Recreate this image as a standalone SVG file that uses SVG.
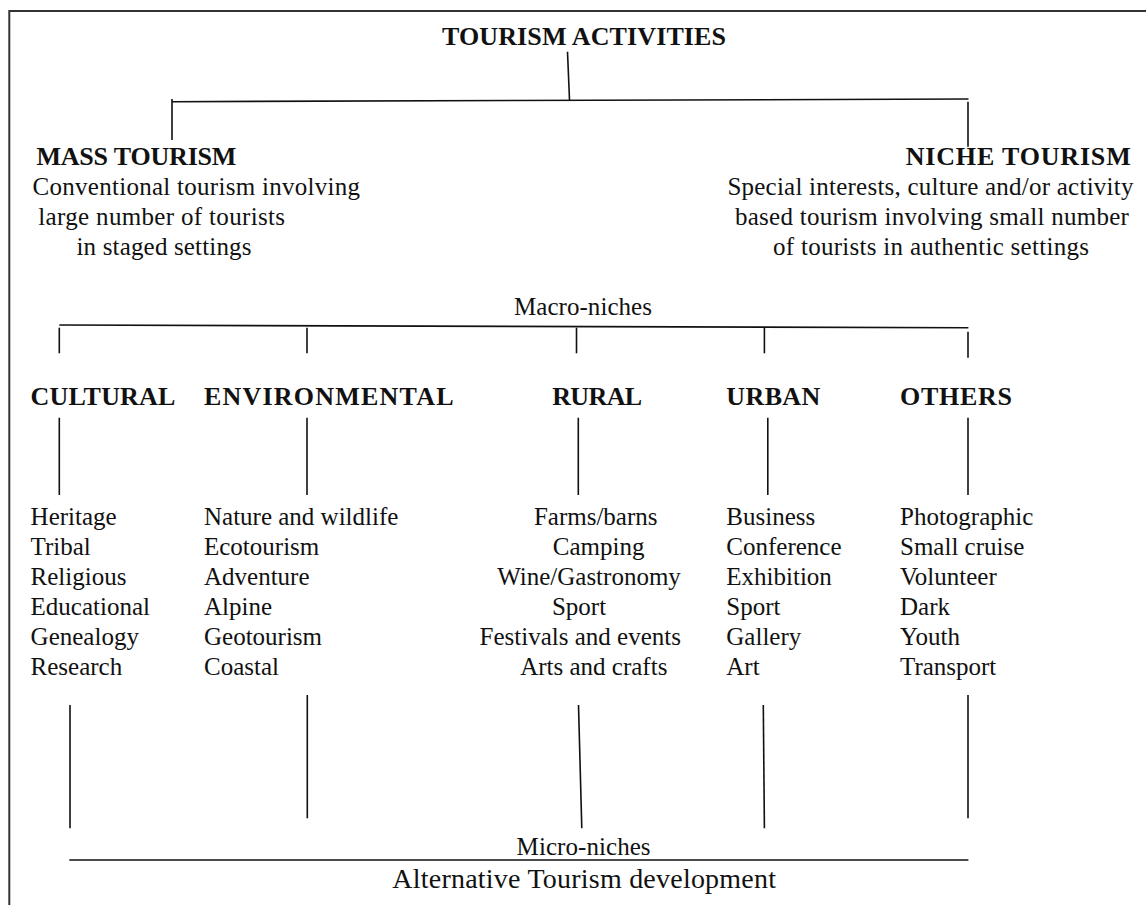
<svg xmlns="http://www.w3.org/2000/svg" width="1146" height="905" viewBox="0 0 1146 905">
<style>
text{font-family:"Liberation Serif","Times New Roman",serif;fill:#111;}
.h{font-weight:bold;font-size:26px;}
.b{font-size:25px;}
.m{text-anchor:middle;}
.c line,.c path{stroke:#111;stroke-width:1.6;fill:none;}
</style>
<rect width="1146" height="905" fill="#fff"/>
<path d="M9.3,905 V11 H1146" fill="none" stroke="#333" stroke-width="2"/>

<g class="c" id="connectors">
<line x1="567.5" y1="51.7" x2="569.5" y2="100"/>
<line x1="172" y1="101.7" x2="968.5" y2="99"/>
<line x1="172" y1="99" x2="172" y2="140"/>
<line x1="968" y1="101.7" x2="968" y2="146.7"/>
<line x1="59.3" y1="325" x2="968.4" y2="327.7"/>
<line x1="59.3" y1="327.7" x2="59.3" y2="353.3"/>
<line x1="307" y1="327.7" x2="307" y2="353.3"/>
<line x1="576.5" y1="327.7" x2="576.5" y2="353.3"/>
<line x1="764.4" y1="328" x2="764.4" y2="353.3"/>
<line x1="968" y1="331.7" x2="968" y2="357.7"/>
<line x1="59.3" y1="417.7" x2="59.3" y2="495"/>
<line x1="307" y1="417.7" x2="307" y2="495"/>
<line x1="578.3" y1="417.7" x2="578.3" y2="495"/>
<line x1="767.8" y1="417.7" x2="767.8" y2="495"/>
<line x1="968" y1="417.7" x2="968" y2="495"/>
<line x1="70" y1="705" x2="70" y2="828.3"/>
<line x1="307.3" y1="695" x2="307.3" y2="818.3"/>
<line x1="578.5" y1="705" x2="581.8" y2="828.3"/>
<line x1="763.3" y1="705" x2="764.4" y2="828.3"/>
<line x1="968" y1="695" x2="968" y2="818.3"/>
<line x1="69.3" y1="860" x2="968.4" y2="860"/>
</g>

<g id="root"><text class="h" x="442" y="45" textLength="284">TOURISM ACTIVITIES</text></g>

<g id="mass">
<text class="h" x="36.4" y="165" textLength="200">MASS TOURISM</text>
<text class="b" x="32.5" y="195" textLength="327.5">Conventional tourism involving</text>
<text class="b" x="38.3" y="225" textLength="246.7">large number of tourists</text>
<text class="b" x="76.5" y="255" textLength="175">in staged settings</text>
</g>

<g id="niche">
<text class="h" x="905.7" y="165" textLength="225">NICHE TOURISM</text>
<text class="b" x="727.4" y="195" textLength="406">Special interests, culture and/or activity</text>
<text class="b" x="734.9" y="225" textLength="394">based tourism involving small number</text>
<text class="b" x="773" y="255" textLength="316">of tourists in authentic settings</text>
</g>

<g id="macro"><text class="b" x="514" y="315" textLength="138">Macro-niches</text></g>

<g id="cultural">
<text class="h" x="30.6" y="405" textLength="144.7">CULTURAL</text>
<text class="b" x="30.6" y="525">Heritage</text>
<text class="b" x="30.6" y="555">Tribal</text>
<text class="b" x="30.6" y="585">Religious</text>
<text class="b" x="30.6" y="615">Educational</text>
<text class="b" x="30.6" y="645">Genealogy</text>
<text class="b" x="30.6" y="675">Research</text>
</g>

<g id="environmental">
<text class="h" x="204" y="405" textLength="249.5">ENVIRONMENTAL</text>
<text class="b" x="204" y="525">Nature and wildlife</text>
<text class="b" x="204" y="555">Ecotourism</text>
<text class="b" x="204" y="585">Adventure</text>
<text class="b" x="204" y="615">Alpine</text>
<text class="b" x="204" y="645">Geotourism</text>
<text class="b" x="204" y="675">Coastal</text>
</g>

<g id="rural">
<text class="h" x="552.2" y="405" textLength="90">RURAL</text>
<text class="b m" x="595.7" y="525">Farms/barns</text>
<text class="b m" x="598.6" y="555">Camping</text>
<text class="b m" x="589" y="585">Wine/Gastronomy</text>
<text class="b m" x="579" y="615">Sport</text>
<text class="b m" x="580.3" y="645">Festivals and events</text>
<text class="b m" x="593.8" y="675">Arts and crafts</text>
</g>

<g id="urban">
<text class="h" x="726.3" y="405" textLength="94">URBAN</text>
<text class="b" x="726.3" y="525">Business</text>
<text class="b" x="726.3" y="555">Conference</text>
<text class="b" x="726.3" y="585">Exhibition</text>
<text class="b" x="726.3" y="615">Sport</text>
<text class="b" x="726.3" y="645">Gallery</text>
<text class="b" x="726.3" y="675">Art</text>
</g>

<g id="others">
<text class="h" x="900" y="405" textLength="112">OTHERS</text>
<text class="b" x="900" y="525">Photographic</text>
<text class="b" x="900" y="555">Small cruise</text>
<text class="b" x="900" y="585">Volunteer</text>
<text class="b" x="900" y="615">Dark</text>
<text class="b" x="900" y="645">Youth</text>
<text class="b" x="900" y="675">Transport</text>
</g>

<g id="micro"><text class="b" x="516.6" y="855" textLength="134">Micro-niches</text></g>

<g id="alternative"><text x="392.3" y="888" font-size="28" textLength="383.7">Alternative Tourism development</text></g>
</svg>
